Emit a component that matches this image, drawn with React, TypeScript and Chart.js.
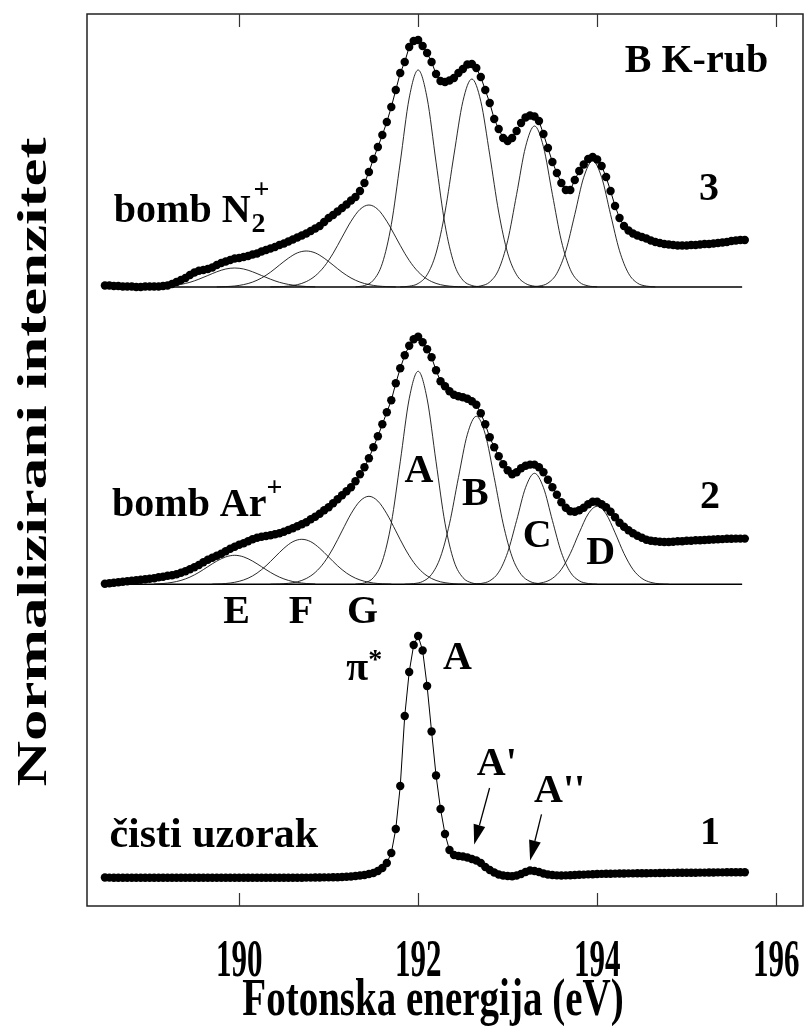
import React, { useEffect, useRef } from "react";
import { Chart, registerables } from "chart.js";
Chart.register(...registerables);

// energy grid of the measured points (eV)
const E_START = 188.5;
const E_STEP = 0.05;
// energy step of the fitted component curves (eV)
const COMP_STEP = 0.1;

const xTicks = [190, 192, 194, 196];

// vertical shift of each spectrum (arbitrary units)
const offsetN2 = 619;
const offsetAr = 321.7;
const offsetClean = 26;

// measured intensities, 188.50 … 195.65 eV every 0.05 eV
const dataN2 = [
  1.5, 1.5, 1, 1, 0.5, 0.5, 0.5, 0, 0, 0.5,
  0.5, 0.5, 0.5, 1, 1.5, 3, 5, 7, 9, 12,
  14.5, 16.3, 17, 18, 19.5, 22, 24, 25.5, 27, 28.5,
  29, 30, 31, 32.5, 33.5, 35.5, 37, 38.5, 40, 42,
  43.5, 45.5, 47.5, 49.5, 51.5, 53.5, 56, 58.5, 61, 65,
  69, 72, 75.5, 79, 82.5, 86.5, 90, 96, 104, 115,
  128, 140, 152, 165, 180, 197, 214, 225, 240, 246,
  247, 241, 234, 225, 213, 206, 205, 206.5, 209, 214,
  218, 222.5, 223, 219, 210, 197, 184, 168, 158, 149,
  146, 149, 156, 164, 169.5, 171.5, 170.5, 166, 153, 139,
  125, 114, 104, 97, 97, 107, 116, 122.5, 128, 130,
  127.5, 121, 110, 96, 81, 69, 61, 56.5, 53.5, 51.5,
  50, 48.5, 46.5, 45, 44, 43, 42.5, 42, 41.5, 41.5,
  41.5, 42, 42, 42.5, 43, 43, 43.5, 44, 44.5, 45,
  46, 46.5, 47, 47,
];

const dataAr = [
  0.5, 1, 1.5, 2, 2.5, 3, 3.5, 4, 4.5, 5,
  5.5, 6, 7, 7.5, 8.5, 9, 10, 11.5, 13, 15,
  17, 19.3, 22, 24.5, 26.5, 28.5, 30.5, 33, 35.5, 37.5,
  39.5, 41, 43, 45, 46.5, 47.5, 48.3, 49, 50, 51,
  52.5, 54.3, 56, 58, 60, 62, 65, 67.5, 70.5, 74,
  77, 81, 85, 89, 93, 97, 103, 110, 117, 126,
  137, 148, 160, 172, 184, 201, 216, 229, 238.5, 245,
  247.5, 242, 235, 227, 214, 203, 198, 193, 189.5, 188,
  187, 185.5, 183, 179.5, 171, 160, 147, 137, 128, 120,
  114, 110, 112, 116, 118.5, 119.7, 119.7, 117, 112, 104.5,
  97, 89.5, 82, 76.5, 73, 72.5, 74, 76.5, 80, 82.5,
  82.5, 80, 77, 72.5, 67, 61.5, 57.5, 54, 51, 48.5,
  46.5, 44.5, 43.5, 43, 42.5, 42.3, 42.3, 42.5, 43, 43,
  43.5, 43.5, 44, 44, 44.3, 44.5, 44.8, 45, 45.2, 45.5,
  45.6, 45.7, 45.7, 45.7,
];

const dataClean = [
  2.5, 2.4, 2.3, 2.3, 2.2, 2.2, 2.2, 2.2, 2.2, 2.2,
  2.2, 2.2, 2.2, 2.2, 2.2, 2.2, 2.2, 2.2, 2.2, 2.2,
  2.2, 2.2, 2.2, 2.2, 2.2, 2.2, 2.2, 2.2, 2.2, 2.2,
  2.2, 2.2, 2.2, 2.2, 2.2, 2.2, 2.2, 2.2, 2.2, 2.2,
  2.2, 2.2, 2.3, 2.3, 2.3, 2.4, 2.4, 2.5, 2.5, 2.6,
  2.6, 2.7, 2.8, 3, 3.2, 3.5, 4, 4.5, 5, 6,
  7, 9, 12, 17, 27, 51, 94, 164, 208, 235,
  244, 229.5, 194, 148.5, 104.5, 71, 46, 30, 25, 24,
  23.5, 22.5, 21, 19.5, 17, 13, 10, 7.5, 5.5, 4.5,
  4, 3.8, 4.5, 6, 8, 9.5, 9, 8, 6.5, 5.5,
  5, 4.6, 4.5, 4.6, 4.8, 5, 5.2, 5.4, 5.6, 5.8,
  6, 6.1, 6.2, 6.3, 6.4, 6.5, 6.5, 6.6, 6.6, 6.7,
  6.8, 6.8, 6.9, 6.9, 7, 7, 7.1, 7.1, 7.2, 7.2,
  7.2, 7.3, 7.3, 7.4, 7.4, 7.5, 7.5, 7.6, 7.6, 7.7,
  7.7, 7.8, 7.8, 7.8,
];

// fitted components (start energy, values every 0.1 eV)
const n2CompStarts = [191.3, 191.8, 192.6, 193.25, 190.35, 189.75, 189.05];
const n2A = [0.2, 1.5, 6.8, 23.7, 62.3, 124.8, 189, 217, 189, 124.8, 62.3, 23.7, 6.8, 1.5, 0.2];
const n2B = [0.1, 0.8, 3.5, 12.2, 33.9, 74.9, 132.1, 185.7, 208, 185.7, 132.1, 74.9, 33.9, 12.2, 3.5, 0.8, 0.1];
const n2C = [0.2, 1.1, 5, 17.5, 46.2, 92.6, 140.2, 161, 140.2, 92.6, 46.2, 17.5, 5, 1.1, 0.2];
const n2D = [0.1, 0.9, 3.9, 13.7, 36.2, 72.5, 109.7, 126, 109.7, 72.5, 36.2, 13.7, 3.9, 0.9, 0.1];
const n2G = [0.1, 0.3, 0.9, 2.3, 5.4, 11.1, 20.4, 33.7, 49.8, 65.7, 77.6, 82, 77.6, 65.7, 49.8, 33.7, 20.4, 11.1, 5.4, 2.3, 0.9, 0.3, 0.1];
const n2F = [0.1, 0.4, 1, 2.4, 4.9, 9, 14.8, 21.9, 28.8, 34.1, 36, 34.1, 28.8, 21.9, 14.8, 9, 4.9, 2.4, 1, 0.4, 0.1];
const n2E = [0.2, 0.5, 1.2, 2.6, 4.7, 7.8, 11.5, 15.2, 18, 19, 18, 15.2, 11.5, 7.8, 4.7, 2.6, 1.2, 0.5, 0.2];

const arCompStarts = [191.3, 191.85, 192.6, 193.2, 190.35, 189.7, 189.05];
const arA = [0.2, 1.4, 6.7, 23.2, 61.1, 122.5, 185.5, 213, 185.5, 122.5, 61.1, 23.2, 6.7, 1.4, 0.2];
const arB = [0.1, 0.7, 2.8, 9.9, 27.4, 60.5, 106.7, 150, 168, 150, 106.7, 60.5, 27.4, 9.9, 2.8, 0.7, 0.1];
const arC = [0.1, 0.8, 3.5, 12.1, 31.9, 63.8, 96.7, 111, 96.7, 63.8, 31.9, 12.1, 3.5, 0.8, 0.1];
const arD = [0.1, 0.5, 1.9, 5.9, 14.9, 30.8, 51.6, 70.4, 78, 70.4, 51.6, 30.8, 14.9, 5.9, 1.9, 0.5, 0.1];
const arG = [0.1, 0.3, 1, 2.5, 5.8, 11.9, 21.9, 36.2, 53.4, 70.5, 83.2, 88, 83.2, 70.5, 53.4, 36.2, 21.9, 11.9, 5.8, 2.5, 1, 0.3, 0.1];
const arF = [0.2, 0.5, 1.3, 3, 6.1, 11.2, 18.5, 27.3, 36, 42.6, 45, 42.6, 36, 27.3, 18.5, 11.2, 6.1, 3, 1.3, 0.5, 0.2];
const arE = [0.3, 0.8, 1.9, 3.9, 7.2, 11.9, 17.6, 23.2, 27.4, 29, 27.4, 23.2, 17.6, 11.9, 7.2, 3.9, 1.9, 0.8, 0.3];

const baselineEnds = [188.5, 195.62];

// text labels in data coordinates (energy, intensity)
const centerLabels = [
  { t: "B K-rub", e: 195.11, v: 844 },
  { t: "3", e: 195.25, v: 716 },
  { t: "2", e: 195.26, v: 408.5 },
  { t: "1", e: 195.26, v: 72 },
  { t: "A", e: 192.01, v: 434.6 },
  { t: "B", e: 192.64, v: 411 },
  { t: "C", e: 193.33, v: 369.2 },
  { t: "D", e: 194.04, v: 352.3 },
  { t: "E", e: 189.97, v: 293 },
  { t: "F", e: 190.69, v: 293 },
  { t: "G", e: 191.38, v: 293 },
  { t: "A", e: 192.44, v: 247.3 },
];
const arrowLines = [
  { e0: 192.798, v0: 118, e1: 192.626, v1: 61.4 },
  { e0: 193.378, v0: 91.6, e1: 193.251, v1: 45.6 },
];

const SERIF = "'Liberation Serif', 'Times New Roman', serif";

function pts(values: number[], start: number, step: number, offset: number) {
  return values.map((v, i) => ({ x: +(start + i * step).toFixed(3), y: v + offset }));
}

const decoPlugin = {
  id: "deco",
  afterDraw(chart: any) {
    const { ctx, chartArea: a, scales } = chart;
    const X = (e: number) => scales.x.getPixelForValue(e);
    const Y = (v: number) => scales.y.getPixelForValue(v);
    ctx.save();
    // frame
    ctx.strokeStyle = "#222";
    ctx.lineWidth = 1.5;
    ctx.strokeRect(a.left, a.top, a.right - a.left, a.bottom - a.top);
    // inward ticks top & bottom
    ctx.lineWidth = 1.2;
    ctx.strokeStyle = "#333";
    xTicks.forEach((t) => {
      const x = Math.round(X(t)) + 0.5;
      ctx.beginPath();
      ctx.moveTo(x, a.bottom);
      ctx.lineTo(x, a.bottom - 13);
      ctx.moveTo(x, a.top);
      ctx.lineTo(x, a.top + 13);
      ctx.stroke();
    });
    ctx.fillStyle = "#000";
    // tick labels (vertically stretched)
    ctx.textAlign = "center";
    ctx.textBaseline = "middle";
    xTicks.forEach((t) => {
      ctx.save();
      ctx.translate(X(t), 962);
      ctx.scale(1, 1.7);
      ctx.font = `bold 31px ${SERIF}`;
      ctx.fillText(String(t), 0, 0);
      ctx.restore();
    });
    // x title
    ctx.save();
    ctx.translate((a.left + a.right) / 2 - 12, 1001);
    ctx.scale(1, 1.35);
    ctx.font = `bold 39px ${SERIF}`;
    ctx.fillText("Fotonska energija (eV)", 0, 0);
    ctx.restore();
    // y title
    ctx.save();
    ctx.translate(35, 462);
    ctx.rotate(-Math.PI / 2);
    ctx.scale(1.5, 1);
    ctx.font = `bold 42px ${SERIF}`;
    ctx.fillText("Normalizirani intenzitet", 0, 0);
    ctx.restore();

    // centered labels
    ctx.font = `bold 40px ${SERIF}`;
    centerLabels.forEach((l) => {
      ctx.fillText(l.t, X(l.e), Y(l.v));
    });

    // left aligned labels with sub/superscripts
    ctx.textAlign = "left";
    ctx.textBaseline = "alphabetic";
    const big = `bold 40px ${SERIF}`;
    const small = `bold 28px ${SERIF}`;
    // bomb N2+
    let x = X(188.6);
    let y = Y(684);
    ctx.font = big;
    ctx.fillText("bomb N", x, y);
    let w = ctx.measureText("bomb N").width;
    ctx.font = small;
    ctx.fillText("2", x + w + 1, y + 10);
    ctx.fillText("+", x + w + 3, y - 24);
    // bomb Ar+
    x = X(188.58);
    y = Y(390);
    ctx.font = big;
    ctx.fillText("bomb Ar", x, y);
    w = ctx.measureText("bomb Ar").width;
    ctx.font = small;
    ctx.fillText("+", x + w, y - 20);
    // čisti uzorak
    ctx.font = `bold 42px ${SERIF}`;
    ctx.fillText("čisti uzorak", X(188.55), Y(59.3));
    // pi*
    x = X(191.197);
    y = Y(226);
    ctx.font = big;
    ctx.fillText("π", x, y);
    w = ctx.measureText("π").width;
    ctx.font = small;
    ctx.fillText("*", x + w, y - 12);
    // A' and A''
    ctx.font = big;
    ctx.fillText("A'", X(192.656), Y(131.3));
    ctx.fillText("A''", X(193.295), Y(104.4));

    // arrows
    ctx.strokeStyle = "#000";
    ctx.lineWidth = 1.3;
    arrowLines.forEach((ar) => {
      const x0 = X(ar.e0), y0 = Y(ar.v0), x1 = X(ar.e1), y1 = Y(ar.v1);
      const ang = Math.atan2(y1 - y0, x1 - x0);
      const hl = 20, hw = 6;
      const bx = x1 - hl * Math.cos(ang), by = y1 - hl * Math.sin(ang);
      ctx.beginPath();
      ctx.moveTo(x0, y0);
      ctx.lineTo(bx, by);
      ctx.stroke();
      ctx.beginPath();
      ctx.moveTo(x1, y1);
      ctx.lineTo(bx + hw * Math.sin(ang), by - hw * Math.cos(ang));
      ctx.lineTo(bx - hw * Math.sin(ang), by + hw * Math.cos(ang));
      ctx.closePath();
      ctx.fill();
    });
    ctx.restore();
  },
};

export default function App() {
  const ref = useRef<HTMLCanvasElement | null>(null);
  useEffect(() => {
    document.body.style.margin = "0";
    const canvas = ref.current;
    if (!canvas) return;

    const dotStyle = {
      showLine: true,
      borderColor: "#000",
      borderWidth: 1,
      pointRadius: 4.2,
      pointHoverRadius: 4.2,
      pointBackgroundColor: "#000",
      pointBorderWidth: 0,
      order: 0,
    };
    const compStyle = {
      borderColor: "#111",
      borderWidth: 0.9,
      pointRadius: 0,
      pointHoverRadius: 0,
      cubicInterpolationMode: "monotone" as const,
      order: 1,
    };
    const n2Comps = [n2A, n2B, n2C, n2D, n2G, n2F, n2E];
    const arComps = [arA, arB, arC, arD, arG, arF, arE];

    const datasets: any[] = [
      { ...dotStyle, data: pts(dataN2, E_START, E_STEP, offsetN2) },
      { ...dotStyle, data: pts(dataAr, E_START, E_STEP, offsetAr) },
      { ...dotStyle, data: pts(dataClean, E_START, E_STEP, offsetClean) },
      ...n2Comps.map((c, i) => ({ ...compStyle, data: pts(c, n2CompStarts[i], COMP_STEP, offsetN2) })),
      ...arComps.map((c, i) => ({ ...compStyle, data: pts(c, arCompStarts[i], COMP_STEP, offsetAr) })),
      {
        ...compStyle,
        borderWidth: 1.6,
        borderColor: "#000",
        data: baselineEnds.map((e) => ({ x: e, y: offsetN2 })),
      },
      {
        ...compStyle,
        borderWidth: 1.6,
        borderColor: "#000",
        data: baselineEnds.map((e) => ({ x: e, y: offsetAr })),
      },
    ];

    const chart = new Chart(canvas, {
      type: "line",
      data: { datasets },
      options: {
        animation: false,
        responsive: false,
        maintainAspectRatio: false,
        layout: { padding: { left: 87, right: 7, top: 14, bottom: 120 } },
        scales: {
          x: { type: "linear", min: 188.3, max: 196.3, display: false },
          y: { type: "linear", min: 0, max: 892, display: false },
        },
        plugins: { legend: { display: false }, tooltip: { enabled: false } },
      },
      plugins: [decoPlugin],
    });
    return () => chart.destroy();
  }, []);

  return (
    <canvas
      ref={ref}
      width={810}
      height={1026}
      style={{ display: "block", width: 810, height: 1026 }}
    />
  );
}
